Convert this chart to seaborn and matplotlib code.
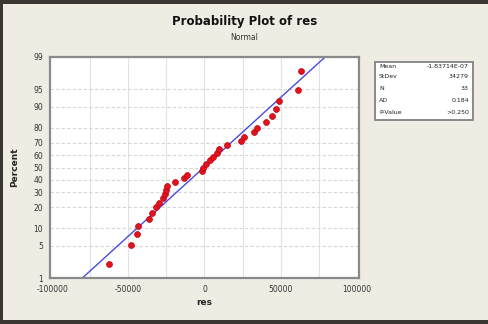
import numpy as np
import pandas as pd
import matplotlib
matplotlib.use("Agg")
import matplotlib.pyplot as plt
import seaborn as sns
from statistics import NormalDist
from matplotlib.patches import Rectangle

# ---- data ----
res = [-63000, -48200, -44300, -43900, -36600, -34400, -31900, -29600, -27000,
       -25700, -25200, -24500, -19500, -13200, -11800, -1500, -700, 700, 3900,
       5300, 8400, 9500, 14900, 23900, 25900, 32400, 34700, 40100, 44500,
       46700, 48900, 61400, 63500]
pct_ticks = [1, 5, 10, 20, 30, 40, 50, 60, 70, 80, 90, 95, 99]
x_ticks = [-100000, -50000, 0, 50000, 100000]
x_tick_labels = ["-100000", "-50000", "0", "50000", "100000"]
stat_names = ["Mean", "StDev", "N", "AD", "P-Value"]
stat_values = ["-1.83714E-07", "34279", "33", "0.184", ">0.250"]

nd = NormalDist()
xs = np.sort(np.array(res, dtype=float))
n = len(xs)
ppos = [(i - 0.3) / (n + 0.4) for i in range(1, n + 1)]
zs = [nd.inv_cdf(p) for p in ppos]
df = pd.DataFrame({"res": xs, "z": zs})

mu = float(np.mean(xs))
sd = 34279.0
zline = np.linspace(-2.6, 2.6, 50)
line_df = pd.DataFrame({"res": mu + sd * zline, "z": zline})

sns.set_style("white")
plt.rcParams['font.family'] = ['DejaVu Sans']

W, H = 489, 324
fig = plt.figure(figsize=(W / 100, H / 100), dpi=100)
fig.patch.set_facecolor("#3b3631")
bg = Rectangle((3 / W, 4 / H), (W - 3) / W, (H - 4 - 4) / H,
               transform=fig.transFigure, facecolor="#efece4",
               edgecolor="none", zorder=-10)
fig.add_artist(bg)

L, R, T, B = 50, 359, 57, 278
ax = fig.add_axes([L / W, 1 - B / H, (R - L) / W, (B - T) / H])
ax.set_zorder(1)
ax.set_facecolor("white")

# grid
for v in range(-75000, 100000, 25000):
    ax.axvline(v, color="#e2e2e2", lw=0.8, zorder=0)
for p in pct_ticks:
    ax.axhline(nd.inv_cdf(p / 100), color="#d6d6d6", lw=0.8, ls=(0, (3, 2)), zorder=0)

sns.lineplot(data=line_df, x="res", y="z", ax=ax, color="#4a4ae0", lw=1.0,
             sort=False, zorder=2)
sns.scatterplot(data=df, x="res", y="z", ax=ax, color="#e0141e", s=18,
                marker="o", edgecolor="#c00010", linewidth=0.5, zorder=3)

ax.set_xlim(-101500, 101500)
ax.set_ylim(nd.inv_cdf(0.01), nd.inv_cdf(0.99))
ax.set_xticks(x_ticks)
ax.set_xticklabels(x_tick_labels)
ax.set_yticks([nd.inv_cdf(p / 100) for p in pct_ticks])
ax.set_yticklabels([str(p) for p in pct_ticks])
ax.tick_params(axis="both", labelsize=5.5, length=3, width=0.8, color="#555555",
               direction="out", pad=2, labelcolor="#333333")
for s in ax.spines.values():
    s.set_color("#8a8a8a")
    s.set_linewidth(1.6)
ax.set_xlabel("res", fontsize=6.5, fontweight="bold", labelpad=3)
ax.set_ylabel("Percent", fontsize=6.5, fontweight="bold", labelpad=10)

fig.text(0.5, 1 - 22 / H, "Probability Plot of res", ha="center", va="center",
         fontsize=8.5, fontweight="bold", color="#111111")
fig.text(0.5, 1 - 37 / H, "Normal", ha="center", va="center", fontsize=5.5,
         color="#333333")

# stats box
bx0, bx1, by0, by1 = 375, 473, 62, 120
box = Rectangle((bx0 / W, 1 - by1 / H), (bx1 - bx0) / W, (by1 - by0) / H,
                transform=fig.transFigure, facecolor="white",
                edgecolor="#8a8a8a", lw=1.4, zorder=2)
fig.add_artist(box)
row_y = [66, 77, 89, 100, 112]
for name, val, yy in zip(stat_names, stat_values, row_y):
    fig.text((bx0 + 4) / W, 1 - yy / H, name, ha="left", va="center",
             fontsize=4.5, color="#222222", zorder=3)
    fig.text((bx1 - 4) / W, 1 - yy / H, val, ha="right", va="center",
             fontsize=4.5, color="#222222", zorder=3)

fig.savefig("out.png", dpi=100, facecolor=fig.get_facecolor())
